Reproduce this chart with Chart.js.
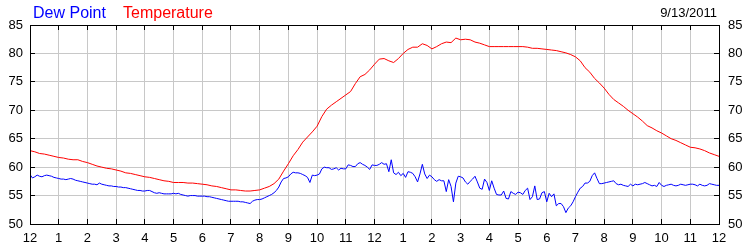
<!DOCTYPE html>
<html><head><meta charset="utf-8">
<script src="https://cdn.jsdelivr.net/npm/chart.js@4.4.0/dist/chart.umd.min.js"></script>
<style>html,body{margin:0;padding:0;background:#fff}#wrap{position:relative;width:750px;height:250px}</style>
</head><body><div id="wrap"><canvas id="c" width="750" height="250"></canvas></div>
<script>
// ---- data ----
const hourLabels = ['12','1','2','3','4','5','6','7','8','9','10','11','12','1','2','3','4','5','6','7','8','9','10','11','12'];
const yTickValues = [50,55,60,65,70,75,80,85];
const seriesNames = ['Dew Point','Temperature'];
const dateLabel = '9/13/2011';
const temperatureStepMinutes = 10;
const dewPointStepMinutes = 5;

const temperature = [
 62.9,62.7,62.4,62.3,62.1,61.9,
 61.7,61.6,61.4,61.3,61.3,61.0,
 60.8,60.5,60.2,60.0,59.8,59.7,
 59.5,59.3,59.0,58.9,58.7,58.5,
 58.3,58.2,58.0,57.8,57.6,57.5,
 57.3,57.3,57.3,57.2,57.2,57.1,
 57.0,56.9,56.7,56.6,56.4,56.2,
 56.0,56.0,55.9,55.8,55.8,55.9,
 56.0,56.3,56.6,57.1,57.9,59.3,
 60.6,62.0,63.1,64.4,65.3,66.2,
 67.2,68.9,70.2,70.9,71.5,72.1,
 72.7,73.3,74.7,75.9,76.3,77.1,
 78.1,79.0,79.1,78.7,78.4,79.1,
 80.0,80.7,81.1,81.1,81.7,81.4,
 80.8,81.2,81.7,82.0,81.9,82.7,
 82.4,82.5,82.4,82.0,81.8,81.5,
 81.2,81.2,81.2,81.2,81.2,81.2,
 81.2,81.2,81.1,80.9,80.9,80.8,
 80.7,80.6,80.5,80.3,80.1,79.8,
 79.4,78.7,77.5,76.7,75.6,74.8,
 73.9,72.8,71.9,71.3,70.7,70.0,
 69.4,68.8,68.1,67.3,66.9,66.4,
 66.0,65.5,65.0,64.7,64.3,63.9,
 63.5,63.4,63.2,62.9,62.5,62.2,
 61.9
];

const dewPoint = [
 58.7,58.1,58.3,58.6,58.4,58.3,58.5,58.6,58.5,58.4,58.2,58.1,
 58.0,57.9,57.9,57.8,57.9,58.0,57.9,57.7,57.6,57.5,57.4,57.3,
 57.2,57.1,57.0,57.0,56.9,57.2,57.0,56.9,56.8,56.7,56.7,56.6,
 56.6,56.5,56.5,56.4,56.4,56.3,56.2,56.1,56.0,55.9,55.9,55.8,
 55.8,55.9,55.9,55.7,55.5,55.4,55.5,55.4,55.3,55.3,55.3,55.3,
 55.4,55.3,55.4,55.2,55.1,55.0,54.9,55.0,55.0,55.0,54.9,54.9,
 54.9,54.9,54.8,54.8,54.7,54.6,54.5,54.4,54.3,54.2,54.1,54.0,
 54.0,54.0,54.0,54.0,53.9,53.9,53.8,53.7,53.6,54.0,54.2,54.3,
 54.3,54.4,54.6,54.8,55.0,55.2,55.5,55.9,56.5,57.4,58.0,58.1,
 58.3,58.8,59.1,59.0,59.0,58.9,58.7,58.5,58.2,57.3,58.6,58.5,
 58.6,58.8,59.7,60.0,59.9,59.9,59.6,59.7,59.9,59.5,59.8,59.7,
 59.7,60.4,60.3,60.1,60.1,60.6,60.8,60.5,60.3,60.0,59.6,60.4,
 60.3,60.3,60.5,60.8,60.5,60.6,59.2,61.3,59.0,58.7,59.1,58.5,
 58.9,58.2,59.2,59.1,58.9,58.3,57.4,58.8,60.5,58.8,58.0,58.6,
 58.3,57.8,57.5,57.8,57.6,57.6,55.7,57.8,56.6,53.9,57.2,58.4,
 58.3,58.1,57.4,57.0,57.5,57.9,58.4,57.4,56.3,56.1,57.9,57.3,
 55.9,57.6,56.3,55.2,55.1,55.1,55.8,54.5,54.4,55.7,55.4,55.2,
 55.6,55.5,55.2,55.9,56.3,54.3,54.8,56.7,54.3,54.4,55.5,55.7,
 53.9,55.4,54.8,55.3,53.2,53.6,53.6,53.05,52.0,52.8,53.2,53.9,
 54.8,55.6,56.3,56.6,57.2,57.2,57.5,58.5,59.0,58.0,57.1,57.1,
 57.2,57.3,57.4,57.5,57.6,57.1,56.9,57.0,56.8,56.7,56.6,57.0,
 56.7,57.0,56.9,57.0,57.1,57.3,57.1,56.9,56.7,56.8,56.6,57.3,
 56.8,56.6,56.8,56.9,57.0,56.8,56.7,56.8,57.0,56.9,56.8,56.9,
 57.0,57.0,56.9,56.7,57.0,56.8,56.7,56.8,57.1,57.0,56.9,56.8,56.8
];

// ---- chart ----
const FONT = '"Liberation Sans", Arial, sans-serif';
const toPoints = (arr, stepMin) => arr.map((v, i) => ({x: i * stepMin / 60, y: v}));

const framePlugin = {
  id: 'frame',
  afterDraw(chart) {
    const {ctx, chartArea: a, scales} = chart;
    const x = scales.x, y = scales.y;
    const al = p => Math.round(p - 0.5) + 0.5;
    ctx.save();
    ctx.strokeStyle = '#000';
    ctx.lineWidth = 1;
    ctx.beginPath();
    x.ticks.forEach(t => {
      const px = al(x.getPixelForValue(t.value));
      ctx.moveTo(px, a.top); ctx.lineTo(px, a.top + 5);
      ctx.moveTo(px, a.bottom); ctx.lineTo(px, a.bottom - 5);
    });
    y.ticks.forEach(t => {
      const py = al(y.getPixelForValue(t.value));
      ctx.moveTo(a.left, py); ctx.lineTo(a.left + 5, py);
      ctx.moveTo(a.right, py); ctx.lineTo(a.right - 5, py);
    });
    ctx.stroke();
    ctx.strokeRect(al(a.left), al(a.top), Math.round(a.right - a.left), Math.round(a.bottom - a.top));
    // header texts
    ctx.textBaseline = 'alphabetic';
    ctx.font = '16px ' + FONT;
    ctx.textAlign = 'left';
    ctx.fillStyle = '#0000ff';
    ctx.fillText(seriesNames[0], 33, 18);
    ctx.fillStyle = '#ff0000';
    ctx.fillText(seriesNames[1], 123, 18);
    ctx.font = '13px ' + FONT;
    ctx.fillStyle = '#000';
    ctx.textAlign = 'right';
    ctx.fillText(dateLabel, 717, 17);
    ctx.restore();
  }
};

const tickFont = {family: FONT, size: 13};
new Chart(document.getElementById('c'), {
  type: 'line',
  data: {
    datasets: [
      {label: seriesNames[0], data: toPoints(dewPoint, dewPointStepMinutes), borderColor: '#0000ff', borderWidth: 1, pointRadius: 0, tension: 0, fill: false},
      {label: seriesNames[1], data: toPoints(temperature, temperatureStepMinutes), borderColor: '#ff0000', borderWidth: 1, pointRadius: 0, tension: 0, fill: false}
    ]
  },
  options: {
    responsive: false,
    animation: false,
    events: [],
    layout: {padding: {top: 25, left: 0, right: 0, bottom: 0}},
    plugins: {legend: {display: false}, tooltip: {enabled: false}, title: {display: false}},
    scales: {
      x: {
        type: 'linear', min: 0, max: 24,
        ticks: {stepSize: 1, autoSkip: false, maxRotation: 0, color: '#000', font: tickFont, padding: 7,
          callback: v => hourLabels[v]},
        grid: {color: '#c8c8c8', drawTicks: false},
        border: {display: false},
        afterFit(s) { s.height = 26; }
      },
      y: {
        position: 'left', min: 50, max: 85,
        afterBuildTicks(s) { s.ticks = yTickValues.map(v => ({value: v})); },
        ticks: {color: '#000', font: tickFont, padding: 7},
        grid: {color: '#c8c8c8', drawTicks: false},
        border: {display: false},
        afterFit(s) { s.width = 30; }
      },
      y2: {
        position: 'right', min: 50, max: 85,
        afterBuildTicks(s) { s.ticks = yTickValues.map(v => ({value: v})); },
        ticks: {color: '#000', font: tickFont, padding: 9},
        grid: {display: false, drawTicks: false},
        border: {display: false},
        afterFit(s) { s.width = 31; }
      }
    }
  },
  plugins: [framePlugin]
});
</script></body></html>
